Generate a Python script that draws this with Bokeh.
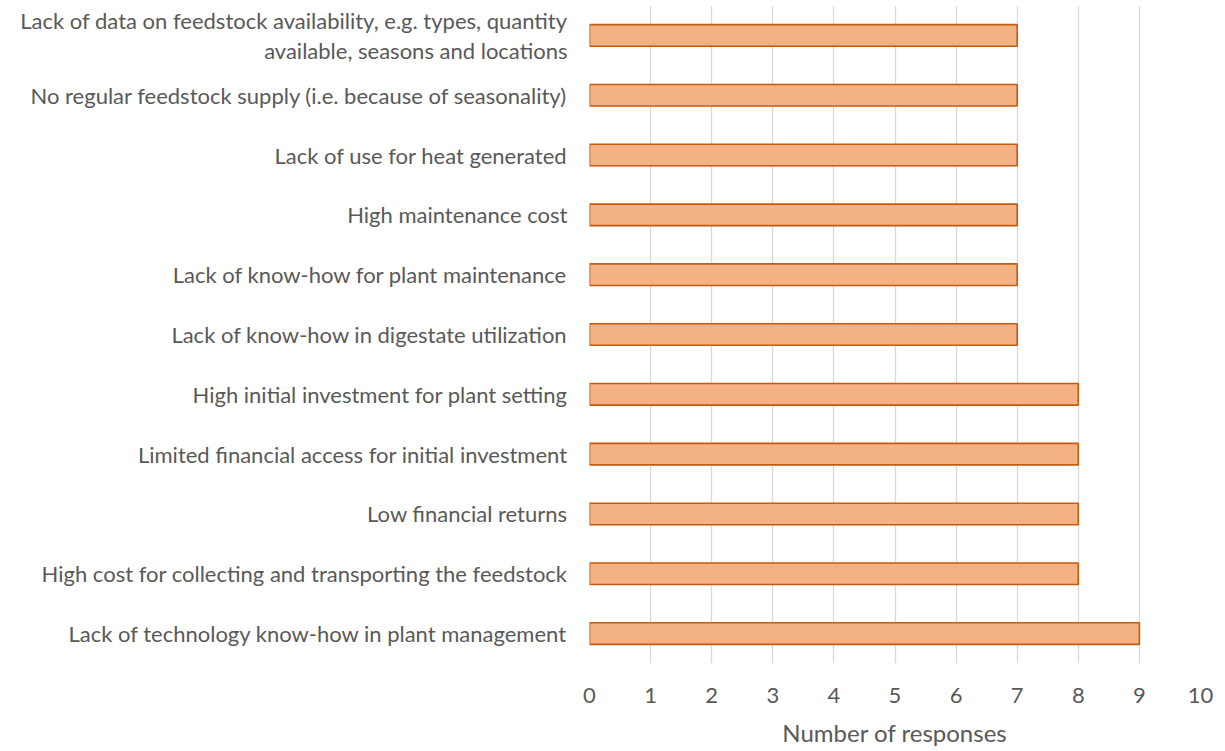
from bokeh.plotting import figure
from bokeh.models import FactorRange, Range1d, FixedTicker, ColumnDataSource
from bokeh.embed import file_html
from bokeh.resources import INLINE

# Data (top-to-bottom as in the chart); the first label wraps onto two lines
categories = [
    "Lack of data on feedstock availability, e.g. types, quantity\navailable, seasons and locations",
    "No regular feedstock supply (i.e. because of seasonality)",
    "Lack of use for heat generated",
    "High maintenance cost",
    "Lack of know-how for plant maintenance",
    "Lack of know-how in digestate utilization",
    "High initial investment for plant setting",
    "Limited financial access for initial investment",
    "Low financial returns",
    "High cost for collecting and transporting the feedstock",
    "Lack of technology know-how in plant management",
]
responses = [7, 7, 7, 7, 7, 7, 8, 8, 8, 8, 9]
x_ticks = [0, 1, 2, 3, 4, 5, 6, 7, 8, 9, 10]
x_title = "Number of responses"

FONT = "Lato"
TXT = "#595959"

factors = list(reversed(categories))
src = ColumnDataSource(dict(cat=categories, val=responses))

p = figure(
    width=1225, height=751,
    y_range=FactorRange(factors=factors),
    x_range=Range1d(0, 10),
    output_backend="svg", toolbar_location=None,
    min_border_left=589, min_border_right=25,
    min_border_top=5, min_border_bottom=88,
)
p.outline_line_color = None
p.background_fill_color = "white"
p.border_fill_color = "white"

p.hbar(y="cat", right="val", left=0, height=0.36, source=src,
       fill_color="#F4B183", line_color="#C55A11", line_width=1.6)

p.xgrid.grid_line_color = "#D9D9D9"
p.xgrid.grid_line_width = 1.3
p.ygrid.grid_line_color = None
p.xaxis.ticker = FixedTicker(ticks=x_ticks)

for ax in (p.xaxis[0], p.yaxis[0]):
    ax.axis_line_color = None
    ax.major_tick_line_color = None
    ax.minor_tick_line_color = None
    ax.major_label_text_font = FONT
    ax.major_label_text_color = TXT
    ax.major_label_text_font_size = "22px"

xa = p.xaxis[0]
xa.major_label_standoff = 18
xa.axis_label = x_title
xa.axis_label_text_font = FONT
xa.axis_label_text_font_size = "24px"
xa.axis_label_text_font_style = "normal"
xa.axis_label_text_color = TXT
xa.axis_label_standoff = 12

ya = p.yaxis[0]
ya.major_label_standoff = 16
ya.major_label_text_line_height = 1.1

open("out.html", "w").write(file_html(p, INLINE))
